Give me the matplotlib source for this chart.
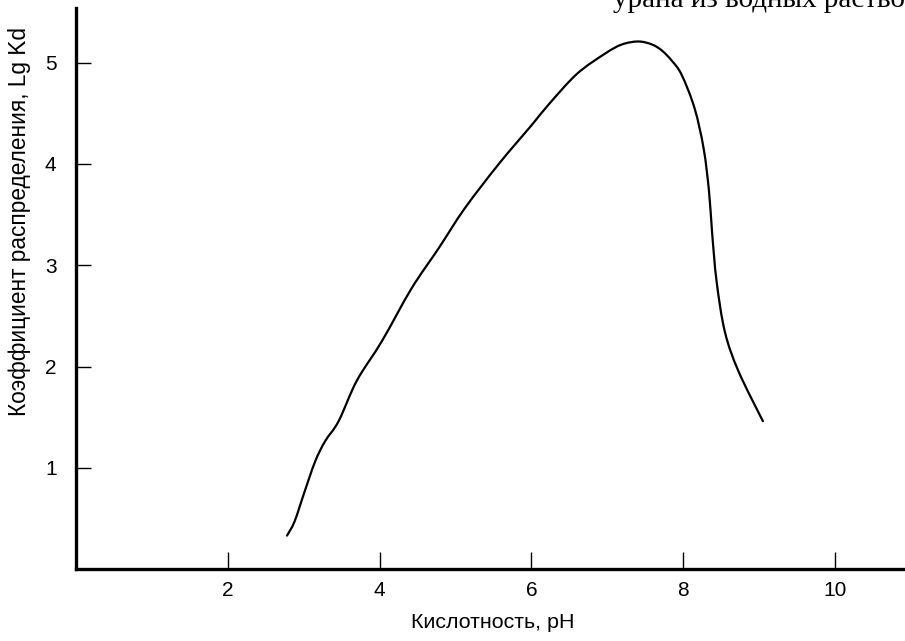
import matplotlib.pyplot as plt
from matplotlib.patches import PathPatch
from matplotlib.path import Path

plt.rcParams['font.family'] = ['Liberation Sans', 'DejaVu Sans']

# кривая Lg Kd от pH
ph = [2.78, 2.88, 3.01, 3.15, 3.28, 3.46, 3.70, 4.03, 4.42, 4.78, 5.12, 5.57,
      6.01, 6.23, 6.60, 6.97, 7.19, 7.41, 7.59, 7.72, 7.85, 7.98, 8.15, 8.27,
      8.34, 8.38, 8.44, 8.55, 8.73, 9.05]
lg_kd = [0.33, 0.47, 0.76, 1.06, 1.26, 1.46, 1.86, 2.25, 2.77, 3.17, 3.56, 4.00,
         4.39, 4.59, 4.89, 5.09, 5.18, 5.21, 5.18, 5.12, 5.02, 4.88, 4.55, 4.15,
         3.73, 3.33, 2.84, 2.34, 1.95, 1.46]

x_ticks = [2, 4, 6, 8, 10]
y_ticks = [1, 2, 3, 4, 5]


def smooth_path(xs, ys):
    # плавная линия через точки (Catmull-Rom -> кубические Безье)
    pts = list(zip(xs, ys))
    verts = [pts[0]]
    codes = [Path.MOVETO]
    n = len(pts)
    for i in range(n - 1):
        p0 = pts[max(i - 1, 0)]
        p1 = pts[i]
        p2 = pts[i + 1]
        p3 = pts[min(i + 2, n - 1)]
        c1 = (p1[0] + (p2[0] - p0[0]) / 6, p1[1] + (p2[1] - p0[1]) / 6)
        c2 = (p2[0] - (p3[0] - p1[0]) / 6, p2[1] - (p3[1] - p1[1]) / 6)
        verts += [c1, c2, p2]
        codes += [Path.CURVE4] * 3
    return Path(verts, codes)


fig = plt.figure(figsize=(9.05, 6.41), dpi=100)
ax = fig.add_axes([76 / 905, 72 / 641, 829 / 905, 561 / 641])

ax.add_patch(PathPatch(smooth_path(ph, lg_kd), facecolor="none",
                       edgecolor="black", linewidth=1.6, capstyle="round"))

ax.set_xlim(0, 829 / 75.9)
ax.set_ylim(0, 561 / 101.25)

ax.set_xticks(x_ticks)
ax.set_yticks(y_ticks)
ax.tick_params(axis="both", direction="in", colors="black", labelsize=15)
ax.tick_params(axis="x", length=12, width=1.0, pad=9)
ax.tick_params(axis="y", length=11, width=1.0, pad=14)

for side in ["top", "right"]:
    ax.spines[side].set_visible(False)
for side in ["left", "bottom"]:
    ax.spines[side].set_linewidth(2.4)

ax.set_xlabel("Кислотность, pH", fontsize=15.4, va="top")
ax.xaxis.set_label_coords(417 / 829, -44 / 561)
ax.set_ylabel("Коэффициент распределения, Lg Kd", fontsize=16.3, va="center")
ax.yaxis.set_label_coords(-56 / 829, 0.62)

fig.text(613 / 905, 1 - 7 / 641, "урана из водных растворов",
         family=["Liberation Serif", "DejaVu Serif"], fontsize=21,
         ha="left", va="baseline")

fig.savefig("out.png", dpi=100)
